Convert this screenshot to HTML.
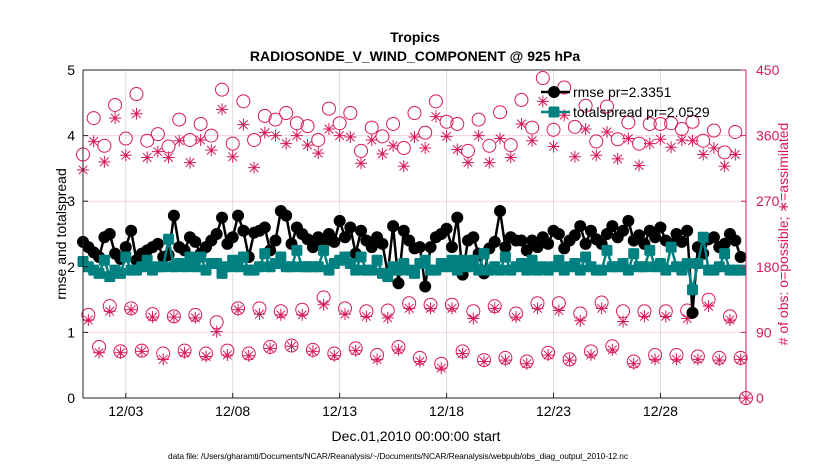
<!DOCTYPE html>
<html><head><meta charset="utf-8">
<style>
html,body{margin:0;padding:0;background:#fff;}
svg{display:block;font-family:"Liberation Sans",sans-serif;}
</style></head>
<body>
<svg id="chart" width="830" height="470" viewBox="0 0 830 470" xmlns="http://www.w3.org/2000/svg">
<rect width="830" height="470" fill="#fff"/>
<text x="415" y="42" text-anchor="middle" font-size="14" font-weight="bold">Tropics</text>
<text x="415" y="61" text-anchor="middle" font-size="14" font-weight="bold">RADIOSONDE_V_WIND_COMPONENT @ 925 hPa</text>
<g id="grid"></g>
<g id="obs"></g>
<g id="series"></g>
<g id="axes"></g>
<text transform="translate(66,234) rotate(-90)" text-anchor="middle" font-size="14">rmse and totalspread</text>
<text transform="translate(788,234) rotate(-90)" text-anchor="middle" font-size="14" fill="#d81a5a"># of obs: o=possible; ∗=assimilated</text>
<text x="416" y="441" text-anchor="middle" font-size="14">Dec.01,2010 00:00:00 start</text>
<text x="398" y="459" text-anchor="middle" font-size="8.4" textLength="460">data file: /Users/gharamti/Documents/NCAR/Reanalysis/~/Documents/NCAR/Reanalysis/webpub/obs_diag_output_2010-12.nc</text>
<g id="legend"></g>
</svg>
<script>
const xTickDays=[2,7,12,17,22,27];
const xTickLabels=["12/03","12/08","12/13","12/18","12/23","12/28"];
const yTicks=[0,1,2,3,4,5];
const y2Ticks=[0,90,180,270,360,450];
const rmse=[2.38,2.30,2.22,2.15,2.45,2.50,2.20,2.12,2.30,2.55,2.10,2.20,2.25,2.30,2.35,2.15,2.18,2.78,2.30,2.25,2.45,2.38,2.20,2.30,2.40,2.50,2.75,2.35,2.45,2.78,2.55,2.15,2.52,2.55,2.60,2.25,2.40,2.85,2.78,2.35,2.60,2.50,2.42,2.30,2.45,2.35,2.50,2.38,2.70,2.45,2.60,2.20,2.55,2.40,2.30,2.45,2.35,1.90,2.62,1.75,2.55,2.40,2.28,2.30,1.70,2.30,2.45,2.50,2.58,2.30,2.75,1.88,2.40,2.45,2.20,1.90,2.28,2.38,2.85,2.30,2.45,2.40,2.40,2.25,2.40,2.30,2.45,2.35,2.55,2.50,2.28,2.40,2.48,2.62,2.35,2.55,2.42,2.35,2.50,2.62,2.45,2.55,2.70,2.40,2.48,2.35,2.55,2.45,2.60,2.40,2.35,2.50,2.38,2.55,1.30,2.30,2.20,2.42,2.45,2.30,2.35,2.50,2.40,2.15];
const spread=[2.08,2.00,1.95,1.90,2.10,1.85,1.95,1.90,2.15,1.95,1.95,2.00,2.10,1.95,2.00,2.00,2.42,2.00,2.05,2.00,2.15,2.00,2.15,1.95,2.05,2.05,1.90,2.00,2.10,2.00,2.15,1.95,1.95,2.00,2.20,2.00,2.05,2.15,2.00,2.00,2.25,2.00,2.00,2.00,2.00,2.25,1.95,2.05,2.10,2.15,2.05,1.95,2.15,1.95,1.95,2.10,1.90,1.85,2.00,1.95,2.05,1.95,1.90,2.05,2.10,1.95,1.95,2.05,2.00,2.10,1.95,2.10,2.00,2.10,1.95,2.20,1.95,2.00,1.95,2.15,1.95,2.00,2.05,1.95,2.10,1.95,2.00,1.95,2.00,2.10,1.95,2.00,2.05,1.95,2.15,2.00,1.95,1.95,2.25,2.00,2.00,2.05,1.95,2.20,2.00,2.00,2.25,2.00,2.05,1.95,2.30,2.00,1.95,2.05,1.65,2.05,2.45,1.95,1.95,2.00,2.20,1.95,1.95,1.95];
// obs counts: 00Z/12Z (top), 06Z, 18Z
const possTop=[334,384,346,402,356,417,353,362,345,382,354,376,360,423,349,407,354,387,382,391,377,373,354,397,377,391,339,371,359,376,343,391,364,407,379,376,339,382,346,392,347,409,371,439,368,426,372,401,352,400,355,378,349,376,376,377,369,379,353,367,337,365,0];
const assimTop=[313,352,324,384,333,390,330,338,330,353,323,354,340,396,331,375,316,364,360,349,360,347,336,369,360,358,322,354,335,346,318,358,343,386,359,341,323,360,323,356,330,376,353,407,345,388,331,369,333,365,328,356,319,349,355,344,354,353,334,343,318,334,0];
const poss06=[114,126,123,115,112,114,104,123,123,119,121,138,123,119,120,130,128,128,119,126,116,130,130,116,131,119,119,119,120,135,112];
const assim06=[107,119,121,111,111,110,91,121,115,114,114,128,115,112,110,123,123,123,109,123,111,123,120,106,123,105,112,112,109,126,107];
const poss18=[70,64,65,61,65,61,65,61,70,72,66,61,68,59,70,55,47,64,52,55,50,62,53,64,71,50,59,59,57,55,55];
const assim18=[62,62,64,53,62,57,59,58,68,71,64,58,65,53,66,50,41,61,50,52,47,59,52,59,66,47,53,53,53,52,53];

const NS="http://www.w3.org/2000/svg";
const X0=83,XR=746,DAY=(746-83)/31,YB=398,YT=70;
const xs=t=>X0+t*DAY;
const yL=v=>YB-(v/5)*(YB-YT);
const yR=v=>YB-(v/450)*(YB-YT);
const RED="#d81a5a",TEAL="#008080";
function mk(tag,attrs,parent){const e=document.createElementNS(NS,tag);for(const k in attrs)e.setAttribute(k,attrs[k]);parent.appendChild(e);return e;}
const grid=document.getElementById('grid'),axes=document.getElementById('axes'),obs=document.getElementById('obs'),ser=document.getElementById('series'),leg=document.getElementById('legend');

y2Ticks.forEach(v=>{if(v>0&&v<450){const l=mk('line',{x1:X0,x2:XR,y1:yR(v),y2:yR(v),stroke:"#f0d4dc","stroke-width":1},grid);

}});
xTickDays.forEach(d=>{const l=mk('line',{x1:xs(d),x2:xs(d),y1:YT,y2:YB,stroke:"#dcdcdc","stroke-width":1},grid);

});

function circle(x,y,g){const c=mk('circle',{cx:x,cy:y,r:6.5,fill:"none",stroke:RED,"stroke-width":1},g);

}
function star(x,y,g){const s=mk('path',{d:`M${x-6},${y}H${x+6}M${x},${y-6}V${y+6}M${x-4.3},${y-4.3}L${x+4.3},${y+4.3}M${x-4.3},${y+4.3}L${x+4.3},${y-4.3}`,stroke:RED,"stroke-width":1,fill:"none"},g);

}
possTop.forEach((v,i)=>circle(xs(i*0.5),yR(v),obs));
assimTop.forEach((v,i)=>star(xs(i*0.5),yR(v),obs));
poss06.forEach((v,i)=>circle(xs(i+0.25),yR(v),obs));
assim06.forEach((v,i)=>star(xs(i+0.25),yR(v),obs));
poss18.forEach((v,i)=>circle(xs(i+0.75),yR(v),obs));
assim18.forEach((v,i)=>star(xs(i+0.75),yR(v),obs));

const rl=mk('polyline',{points:rmse.map((v,i)=>xs(i*0.25)+","+yL(v)).join(" "),fill:"none",stroke:"#000","stroke-width":2.5},ser);


rmse.forEach((v,i)=>{const c=mk('circle',{cx:xs(i*0.25),cy:yL(v),r:6,fill:"#000"},ser);

});
const sl=mk('polyline',{points:spread.map((v,i)=>xs(i*0.25)+","+yL(v)).join(" "),fill:"none",stroke:TEAL,"stroke-width":2.5},ser);


spread.forEach((v,i)=>{const r=mk('rect',{x:xs(i*0.25)-5.5,y:yL(v)-5.5,width:11,height:11,rx:1.5,fill:TEAL},ser);

});

// axes
mk('line',{x1:X0,x2:XR,y1:YT,y2:YT,stroke:"#222","stroke-width":1},axes);
mk('line',{x1:X0,x2:XR,y1:YB,y2:YB,stroke:"#222","stroke-width":1},axes);
mk('line',{x1:X0,x2:X0,y1:YT,y2:YB,stroke:"#222","stroke-width":1},axes);
mk('line',{x1:XR,x2:XR,y1:YT,y2:YB,stroke:RED,"stroke-width":1},axes);
yTicks.forEach(v=>{mk('line',{x1:X0,x2:X0+5,y1:yL(v),y2:yL(v),stroke:"#222"},axes);
const t=mk('text',{x:X0-8,y:yL(v)+5,"text-anchor":"end","font-size":14},axes);t.textContent=v;

});
y2Ticks.forEach(v=>{mk('line',{x1:XR-5,x2:XR,y1:yR(v),y2:yR(v),stroke:RED},axes);
const t=mk('text',{x:XR+10,y:yR(v)+5,"font-size":14,fill:RED},axes);t.textContent=v;

});
xTickDays.forEach((d,i)=>{mk('line',{x1:xs(d),x2:xs(d),y1:YB-5,y2:YB,stroke:"#222"},axes);
const t=mk('text',{x:xs(d),y:416,"text-anchor":"middle","font-size":14},axes);t.textContent=xTickLabels[i];

});

// legend
mk('line',{x1:541,x2:570,y1:92,y2:92,stroke:"#000","stroke-width":2.5},leg);
mk('circle',{cx:554,cy:92,r:6,fill:"#000"},leg);
const lt1=mk('text',{x:573,y:97,"font-size":14},leg);lt1.textContent="rmse pr=2.3351";


mk('line',{x1:541,x2:570,y1:112,y2:112,stroke:TEAL,"stroke-width":2.5},leg);
mk('rect',{x:548.5,y:106.5,width:11,height:11,rx:1.5,fill:TEAL},leg);
const lt2=mk('text',{x:573,y:117,"font-size":14},leg);lt2.textContent="totalspread pr=2.0529";


</script>
</body></html>
